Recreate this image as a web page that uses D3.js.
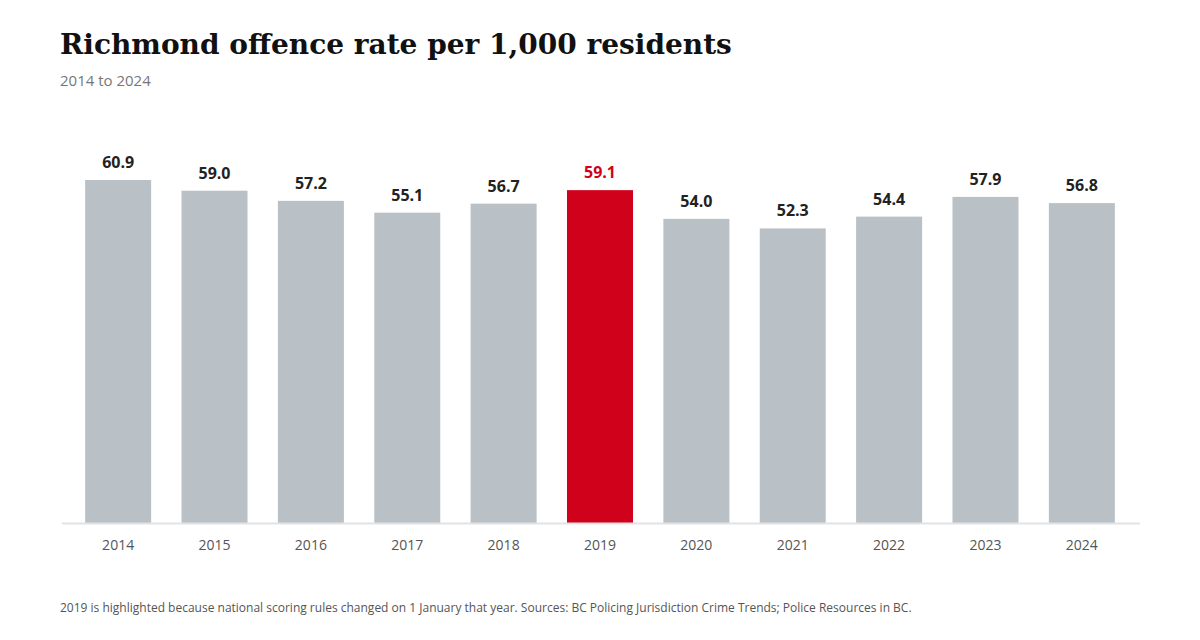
<!DOCTYPE html>
<html><head><meta charset="utf-8">
<script src="https://cdn.jsdelivr.net/npm/d3@7"></script>
<style>body{margin:0;background:#fff;}</style>
</head><body>
<svg id="c" width="1200" height="640"></svg>
<script>
const years = ["2014","2015","2016","2017","2018","2019","2020","2021","2022","2023","2024"];
const rates = [60.9,59.0,57.2,55.1,56.7,59.1,54.0,52.3,54.4,57.9,56.8];
const highlight = "2019";

const svg = d3.select("#c");
const x = d3.scaleBand().domain(years).range([70,1130]).paddingInner(0.315).paddingOuter(0.157);
const y = d3.scaleLinear().domain([0,60.9]).range([523,180]);

svg.append("text").attr("x",60).attr("y",54).attr("font-family","'DejaVu Serif', Georgia, serif")
  .attr("font-weight","bold").attr("font-size",28).attr("fill","#111").text("Richmond offence rate per 1,000 residents");
svg.append("text").attr("x",60).attr("y",86).attr("font-family","'Open Sans', sans-serif")
  .attr("font-size",15).attr("fill","#777").text("2014 to 2024");

svg.selectAll("rect.bar").data(years).join("rect")
  .attr("x",d=>x(d)).attr("width",x.bandwidth())
  .attr("y",(d,i)=>y(rates[i])).attr("height",(d,i)=>y(0)-y(rates[i]))
  .attr("fill",d=>d===highlight?"#d0021b":"#b9c1c7");

svg.selectAll("text.val").data(years).join("text")
  .attr("x",d=>x(d)+x.bandwidth()/2).attr("y",(d,i)=>y(rates[i])-12)
  .attr("text-anchor","middle").attr("font-family","'Open Sans', sans-serif")
  .attr("font-weight","bold").attr("font-size",16)
  .attr("fill",d=>d===highlight?"#d0021b":"#222")
  .text((d,i)=>rates[i].toFixed(1));

const ax = svg.append("g").attr("transform","translate(0,523)")
  .call(d3.axisBottom(x).tickSize(0).tickPadding(17));
ax.select(".domain").remove();
ax.selectAll("text").attr("font-family","'Open Sans', sans-serif").attr("font-size",14).attr("fill","#555");
svg.append("line").attr("x1",62).attr("x2",1140).attr("y1",523.5).attr("y2",523.5).attr("stroke","#dfe3e6").attr("stroke-width",2);

svg.append("text").attr("x",60).attr("y",612).attr("font-family","'Open Sans', sans-serif")
  .attr("font-size",12).attr("fill","#555")
  .text("2019 is highlighted because national scoring rules changed on 1 January that year. Sources: BC Policing Jurisdiction Crime Trends; Police Resources in BC.");
</script>
</body></html>
